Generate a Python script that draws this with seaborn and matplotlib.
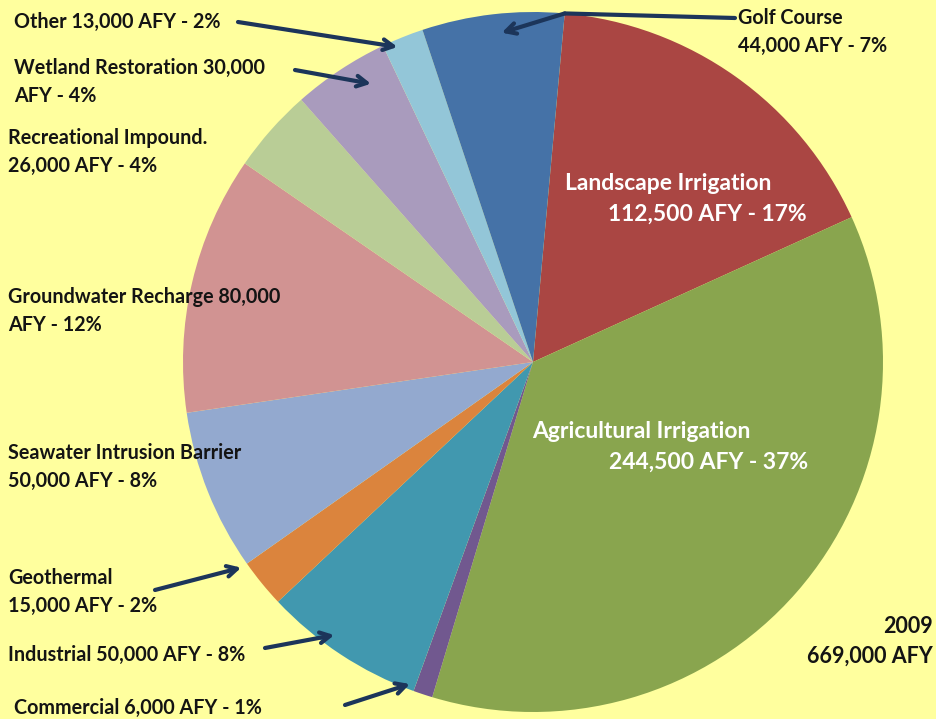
import numpy as np
import matplotlib.pyplot as plt
import seaborn as sns

# recycled water use, 2009 (AFY), clockwise from the top
uses = [
    "Landscape Irrigation", "Agricultural Irrigation", "Commercial", "Industrial",
    "Geothermal", "Seawater Intrusion Barrier", "Groundwater Recharge",
    "Recreational Impound.", "Wetland Restoration", "Other", "Golf Course",
]
afy = [112500, 244500, 6000, 50000, 15000, 50000, 80000, 26000, 30000, 13000, 44000]
pct = [17, 37, 1, 8, 2, 8, 12, 4, 4, 2, 7]
colors = [
    "#AA4643", "#89A54E", "#71588F", "#4198AF", "#DB843D", "#93A9CF",
    "#D19392", "#B9CD96", "#A99BBD", "#93C6D8", "#4572A7",
]
year = 2009
total_afy = 669000

W, H = 937, 719
BG = "#FFFF9E"
INK = "#141414"
ARROW = "#1C355A"

sns.set_theme(style="white")
plt.rcParams["font.family"] = ["Lato", "DejaVu Sans"]

fig = plt.figure(figsize=(W / 100, H / 100), dpi=100, facecolor=BG)
cx, cy, r = 533, 362, 350
ax = fig.add_axes([(cx - r) / W, (H - cy - r) / H, 2 * r / W, 2 * r / H])
ax.set_facecolor(BG)
start = 84.8
wedges, _ = ax.pie(afy, colors=colors, startangle=start, counterclock=False,
                   radius=1.0, wedgeprops=dict(linewidth=0))
ax.set_xlim(-1, 1)
ax.set_ylim(-1, 1)
ax.set_aspect("equal")
ax.axis("off")


def px(x, y):
    return x / W, 1 - y / H


def wedge_point(i, frac, rad):
    # frac runs clockwise through the wedge: 0 = its start, 1 = its end
    w = wedges[i]
    ang = np.deg2rad(w.theta2 - frac * (w.theta2 - w.theta1))
    return rad * np.cos(ang), rad * np.sin(ang)


def v(i):
    return f"{afy[i]:,}"


txt = dict(fontsize=14.2, fontweight="bold", color=INK, linespacing=1.5)

# outside labels: (index, text, left x, center y)
outside = [
    (9, f"Other {v(9)} AFY - {pct[9]}%", 14, 22),
    (8, f"Wetland Restoration {v(8)}\nAFY - {pct[8]}%", 14, 82),
    (7, f"Recreational Impound.\n{v(7)} AFY - {pct[7]}%", 8, 152),
    (6, f"Groundwater Recharge {v(6)}\nAFY - {pct[6]}%", 8, 311),
    (5, f"Seawater Intrusion Barrier\n{v(5)} AFY - {pct[5]}%", 8, 467),
    (4, f"Geothermal\n{v(4)} AFY - {pct[4]}%", 8, 592),
    (3, f"Industrial {v(3)} AFY - {pct[3]}%", 8, 655),
    (2, f"Commercial {v(2)} AFY - {pct[2]}%", 14, 708),
    (10, f"Golf Course\n{v(10)} AFY - {pct[10]}%", 738, 32),
]
for i, s, x, y in outside:
    fig.text(*px(x, y), s, ha="left", va="center", **txt)

# arrows: (index, tail x, tail y, wedge fraction, radius)
arrows = [
    (9, 238, 22, 0.3, 0.98),
    (8, 295, 70, 0.7, 0.92),
    (4, 155, 590, 1.0, 1.02),
    (3, 265, 648, 0.6, 0.965),
    (2, 345, 705, 1.3, 0.985),
]
aprops = dict(arrowstyle="->,head_length=0.6,head_width=0.32", color=ARROW,
              lw=3.0, shrinkA=0, shrinkB=0)
for i, x, y, frac, rad in arrows:
    ax.annotate("", xy=wedge_point(i, frac, rad), xycoords="data",
                xytext=(x, H - y), textcoords="figure pixels", arrowprops=aprops)

# golf course leader: label -> pie edge -> into wedge
bend = wedge_point(10, 1.0, 1.0)
ax.annotate("", xy=bend, xycoords="data", xytext=(735, H - 18),
            textcoords="figure pixels",
            arrowprops=dict(arrowstyle="-", color=ARROW, lw=3.0,
                            shrinkA=0, shrinkB=0))
ax.annotate("", xy=wedge_point(10, 0.55, 0.945), xytext=bend, arrowprops=aprops)

# inside labels
white = dict(txt, color="white", fontsize=16.5)
fig.text(*px(565, 184), uses[0], ha="left", va="center", **white)
fig.text(*px(608, 214), f"{v(0)} AFY - {pct[0]}%", ha="left", va="center", **white)
fig.text(*px(532, 431), uses[1], ha="left", va="center", **white)
fig.text(*px(609, 462), f"{v(1)} AFY - {pct[1]}%", ha="left", va="center", **white)

# total
fig.text(*px(933, 641), f"{year}\n{total_afy:,} AFY", ha="right", va="center",
         **dict(txt, fontsize=15.5))

fig.savefig("out.png", dpi=100, facecolor=BG)
plt.close(fig)
